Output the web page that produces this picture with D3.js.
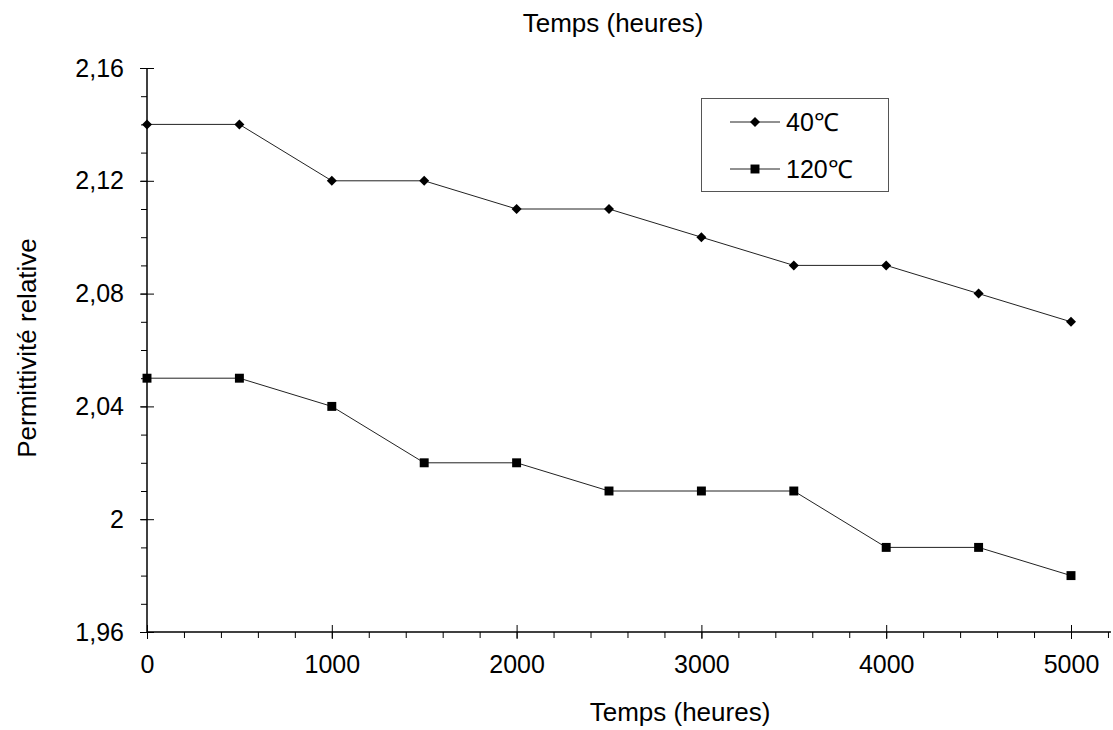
<!DOCTYPE html>
<html lang="fr">
<head>
<meta charset="UTF-8">
<title>Permittivité relative</title>
<script src="https://d3js.org/d3.v7.min.js"></script>
<style>
  body { margin: 0; background: #fff; }
  svg text { font-family: Arial, "Liberation Sans", sans-serif !important; fill: #000; }
</style>
</head>
<body>
<div id="chart"></div>
<script>
// data
const hours = [0, 500, 1000, 1500, 2000, 2500, 3000, 3500, 4000, 4500, 5000];
const perm40 = [2.14, 2.14, 2.12, 2.12, 2.11, 2.11, 2.10, 2.09, 2.09, 2.08, 2.07];
const perm120 = [2.05, 2.05, 2.04, 2.02, 2.02, 2.01, 2.01, 2.01, 1.99, 1.99, 1.98];
const seriesNames = ["40\u2103", "120\u2103"];
const xTicks = [0, 1000, 2000, 3000, 4000, 5000];
const xMinor = d3.range(0, 5201, 200);
const yTicks = [1.96, 2.00, 2.04, 2.08, 2.12, 2.16];
const yMinor = d3.range(196, 217, 1).map(d => d / 100);

const width = 1113, height = 730;
const x = d3.scaleLinear().domain([0, 5000]).range([147, 1071]);
const y = d3.scaleLinear().domain([1.96, 2.16]).range([632, 68]);

const svg = d3.select("#chart").append("svg")
    .attr("width", width)
    .attr("height", height);

// french decimal comma, "2" without decimals
const fmtY = d => d3.format(".2~f")(d).replace(".", ",");

// minor ticks
const xMinorAxis = svg.append("g")
    .attr("transform", `translate(0,${y(1.96)})`)
    .call(d3.axisBottom(x).tickValues(xMinor).tickSize(6).tickFormat(""));
const yMinorAxis = svg.append("g")
    .attr("transform", `translate(${x(0)},0)`)
    .call(d3.axisLeft(y).tickValues(yMinor).tickSize(6).tickFormat(""));
[xMinorAxis, yMinorAxis].forEach(a => {
    a.select(".domain").remove();
    a.selectAll("line").attr("stroke", "#000").attr("stroke-width", 1);
});

// major ticks (crossing)
const xAxis = svg.append("g")
    .attr("transform", `translate(0,${y(1.96)})`)
    .call(d3.axisBottom(x).tickValues(xTicks).tickSize(7).tickPadding(16).tickFormat(d3.format("d")));
xAxis.selectAll(".tick line").attr("y1", -7);
const yAxis = svg.append("g")
    .attr("transform", `translate(${x(0)},0)`)
    .call(d3.axisLeft(y).tickValues(yTicks).tickSize(7).tickPadding(16).tickFormat(fmtY));
yAxis.selectAll(".tick line").attr("x1", 7);
[xAxis, yAxis].forEach(a => {
    a.select(".domain").remove();
    a.attr("font-family", null);
    a.selectAll("line").attr("stroke", "#000").attr("stroke-width", 1);
    a.selectAll("text").style("font-size", "25px").attr("fill", "#000");
});
xAxis.selectAll("text").attr("dy", "0.71em");

// axis lines
svg.append("line")
    .attr("x1", x(0)).attr("x2", x(5216))
    .attr("y1", y(1.96)).attr("y2", y(1.96))
    .attr("stroke", "#000").attr("stroke-width", 1.5);
svg.append("line")
    .attr("x1", x(0)).attr("x2", x(0))
    .attr("y1", y(1.96)).attr("y2", y(2.16))
    .attr("stroke", "#000").attr("stroke-width", 1.5);

// titles
svg.append("text")
    .attr("x", 613).attr("y", 32)
    .attr("text-anchor", "middle")
    .style("font-size", "26px")
    .text("Temps (heures)");
svg.append("text")
    .attr("x", 680).attr("y", 721)
    .attr("text-anchor", "middle")
    .style("font-size", "26px")
    .text("Temps (heures)");
svg.append("text")
    .attr("transform", "translate(36,348) rotate(-90)")
    .attr("text-anchor", "middle")
    .style("font-size", "26px")
    .text("Permittivité relative");

// series
const line = d3.line()
    .x((d, i) => x(hours[i]))
    .y(d => y(d));
const diamond = d3.symbol().type(d3.symbolDiamond2).size(64);
const square = d3.symbol().type(d3.symbolSquare).size(80);

const series = [
    { name: seriesNames[0], values: perm40, symbol: diamond },
    { name: seriesNames[1], values: perm120, symbol: square }
];

series.forEach(s => {
    svg.append("path")
        .datum(s.values)
        .attr("d", line)
        .attr("fill", "none")
        .attr("stroke", "#222")
        .attr("stroke-width", 1);
    svg.append("g").selectAll("path")
        .data(s.values)
        .join("path")
        .attr("transform", (d, i) => `translate(${x(hours[i])},${y(d)})`)
        .attr("d", s.symbol)
        .attr("fill", "#000");
});

// legend
const legend = svg.append("g");
legend.append("rect")
    .attr("x", 701.5).attr("y", 98.5)
    .attr("width", 187).attr("height", 93)
    .attr("fill", "#fff")
    .attr("stroke", "#555")
    .attr("stroke-width", 1);
series.forEach((s, i) => {
    const ly = 122 + i * 47;
    legend.append("line")
        .attr("x1", 730).attr("x2", 780)
        .attr("y1", ly).attr("y2", ly)
        .attr("stroke", "#222").attr("stroke-width", 1);
    legend.append("path")
        .attr("transform", `translate(755,${ly})`)
        .attr("d", s.symbol)
        .attr("fill", "#000");
    legend.append("text")
        .attr("x", 786).attr("y", ly + 9)
        .style("font-size", "25px")
        .text(s.name);
});
</script>
</body>
</html>
